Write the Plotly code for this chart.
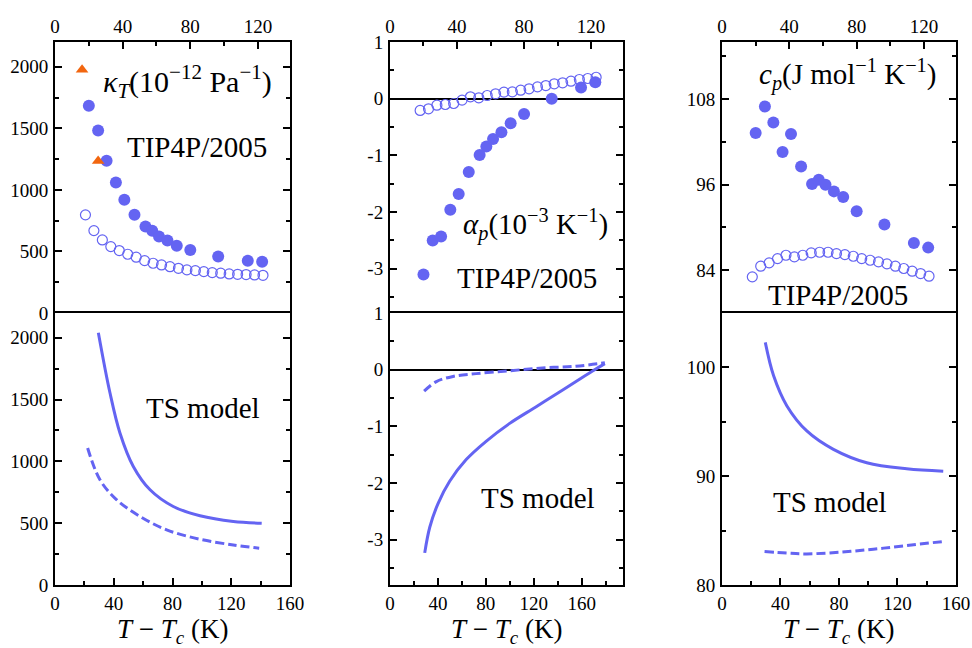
import plotly.graph_objects as go

FONT = "Liberation Serif"
BLUE = "#6464f2"
ORANGE = "#f2660f"

# ---- TIP4P/2005 simulation points (T - Tc in K) ----
x_sim = [20, 25.5, 30.5, 36, 41, 47, 53.5, 57.5, 61.5, 66.5, 72, 80, 96.5, 114, 122.5]
kappa_sim = [1683, 1482, 1236, 1059, 919, 797, 702, 667, 621, 588, 547, 512, 458, 425, 417]
alpha_sim = [-3.10, -2.50, -2.43, -1.96, -1.68, -1.29, -0.99, -0.84, -0.71, -0.59, -0.43,
             -0.27, 0.0, 0.20, 0.29]
cp_sim = [103.24, 106.96, 104.72, 100.58, 103.1, 98.56, 96.09, 96.70, 96.0, 95.06, 94.27,
          92.26, 90.4, 87.83, 87.17]

x_open = [18, 23, 28, 33, 38, 43, 48, 53, 58, 63, 68, 73, 78, 83, 88, 93, 98, 103, 108,
          113, 118, 123]
kappa_open = [797, 669, 593, 539, 507, 477, 453, 425, 404, 390, 376, 363, 350, 344, 336,
              328, 323, 317, 314, 312, 309, 306]
alpha_open = [-0.206, -0.177, -0.113, -0.101, -0.083, -0.024, 0.035, 0.017, 0.058, 0.088,
              0.117, 0.122, 0.152, 0.176, 0.21, 0.234, 0.264, 0.282, 0.31, 0.34, 0.358, 0.38]
cp_open = [83.07, 84.56, 85.03, 85.63, 86.10, 85.87, 86.10, 86.43, 86.52, 86.52, 86.33,
           86.19, 85.96, 85.63, 85.40, 85.17, 84.89, 84.56, 84.24, 83.86, 83.53, 83.16]

x_tri = [16, 25.5]
kappa_tri = [1975, 1235]

# ---- TS model curves ----
kappa_ts_x = [29.5, 37.4, 44.2, 53.3, 64.7, 80.5, 98.7, 121.4, 140.7]
kappa_ts_y = [2041, 1555, 1230, 959, 770, 635, 560, 514, 500]
kappa_ts2_x = [22.2, 30.6, 42, 57.9, 76, 98.7, 121.4, 139]
kappa_ts2_y = [1108, 851, 689, 554, 446, 370, 324, 298]

alpha_ts_x = [29, 33.2, 40.1, 49.8, 63.6, 80.2, 99.6, 121.7, 143.8, 168.7, 179.3]
alpha_ts_y = [-3.233, -2.781, -2.363, -1.970, -1.587, -1.264, -0.952, -0.658, -0.365,
              -0.029, 0.106]
alpha_ts2_x = [28.5, 38.7, 52.6, 71.9, 99.6, 127.2, 154.9, 179.3]
alpha_ts2_y = [-0.38, -0.21, -0.12, -0.07, -0.02, 0.03, 0.06, 0.12]

cp_ts_x = [29.6, 35.3, 44.4, 58, 76.2, 99, 126.3, 151.3]
cp_ts_y = [102.3, 99.23, 96.46, 94.16, 92.47, 91.24, 90.68, 90.46]
cp_ts2_x = [29.1, 44.4, 58, 80.8, 103.5, 126.3, 151.3]
cp_ts2_y = [83.07, 82.93, 82.86, 83.02, 83.29, 83.63, 84.0]

# ---- tick labels ----
top_xticks = [0, 40, 80, 120]
bot_xticks = [0, 40, 80, 120, 160]
kappa_ticks = [0, 500, 1000, 1500, 2000]
alpha_ticks = [-3, -2, -1, 0, 1]
alpha_ticktext = ["-3", "-2", "-1", "0", "1"]
cp_top_ticks = [84, 96, 108]
cp_bot_ticks = [80, 90, 100]

DASH = "9px,4px"

fig = go.Figure()


def filled(x, y, xa, ya):
    fig.add_trace(go.Scatter(x=x, y=y, mode="markers", xaxis=xa, yaxis=ya,
                             marker=dict(symbol="circle", size=12, color=BLUE),
                             showlegend=False))


def hollow(x, y, xa, ya):
    fig.add_trace(go.Scatter(x=x, y=y, mode="markers", xaxis=xa, yaxis=ya,
                             marker=dict(symbol="circle-open", size=10, color=BLUE,
                                         line=dict(width=1.2, color=BLUE)),
                             showlegend=False))


def curve(x, y, xa, ya, dash="solid"):
    fig.add_trace(go.Scatter(x=x, y=y, mode="lines", xaxis=xa, yaxis=ya,
                             line=dict(color=BLUE, width=3, dash=dash, shape="spline",
                                       smoothing=1.0),
                             showlegend=False))


hollow(x_open, kappa_open, "x", "y")
filled(x_sim, kappa_sim, "x", "y")
fig.add_trace(go.Scatter(x=x_tri, y=kappa_tri, mode="markers", xaxis="x", yaxis="y",
                         marker=dict(symbol="triangle-up", size=11, color=ORANGE),
                         showlegend=False))
hollow(x_open, alpha_open, "x2", "y2")
filled(x_sim, alpha_sim, "x2", "y2")
hollow(x_open, cp_open, "x3", "y3")
filled(x_sim, cp_sim, "x3", "y3")

curve(kappa_ts_x, kappa_ts_y, "x4", "y4")
curve(kappa_ts2_x, kappa_ts2_y, "x4", "y4", dash=DASH)
curve(alpha_ts_x, alpha_ts_y, "x5", "y5")
curve(alpha_ts2_x, alpha_ts2_y, "x5", "y5", dash=DASH)
curve(cp_ts_x, cp_ts_y, "x6", "y6")
curve(cp_ts2_x, cp_ts2_y, "x6", "y6", dash=DASH)

tickfont = dict(family=FONT, size=19, color="black")
common = dict(showline=True, linecolor="black", linewidth=2, ticks="inside", ticklen=7,
              tickwidth=1.5, tickcolor="black", showgrid=False, zeroline=False,
              tickfont=tickfont, automargin=False)
minor_x = dict(ticks="inside", ticklen=4, tickwidth=1.5, tickcolor="black", dtick=20,
               tick0=0, showgrid=False)

cols = [(0.0566, 0.2984), (0.4012, 0.6409), (0.7428, 0.9835)]
top_dom = (0.517, 0.935)
bot_dom = (0.0972, 0.517)

layout = dict(width=972, height=648, margin=dict(l=0, r=0, t=0, b=0, pad=0),
              plot_bgcolor="white", paper_bgcolor="white",
              font=dict(family=FONT, color="black"))

for i in range(3):
    n_top = i + 1
    n_bot = i + 4
    xt = "xaxis" if n_top == 1 else f"xaxis{n_top}"
    # upper panels: labelled scale on top; the shared edge comes from the lower panel
    layout[xt] = dict(common, domain=cols[i], anchor=("y" if n_top == 1 else f"y{n_top}"),
                      side="top", mirror=False, range=[0, 139], tickmode="array",
                      tickvals=top_xticks, minor=minor_x, ticklabelstandoff=0)
    layout[f"xaxis{n_bot}"] = dict(common, domain=cols[i], anchor=f"y{n_bot}",
                                   side="bottom", mirror=True,
                                   range=[0, 194.4 if i == 1 else 160],
                                   tickmode="array", tickvals=bot_xticks, minor=minor_x,
                                   ticklabelstandoff=0)


def yaxis(anchor, dom, rng, vals, text=None, minor_dtick=None, zero=False):
    d = dict(common, domain=dom, anchor=anchor, mirror="ticks", range=rng,
             tickmode="array", tickvals=vals, ticklabelstandoff=1,
             minor=dict(ticks="inside", ticklen=4, tickwidth=1.5, tickcolor="black",
                        dtick=minor_dtick, tick0=0, showgrid=False))
    if text is not None:
        d["ticktext"] = text
    if zero:
        d.update(zeroline=True, zerolinecolor="black", zerolinewidth=2)
    return d


layout["yaxis"] = yaxis("x", top_dom, [0, 2200], kappa_ticks, minor_dtick=250)
layout["yaxis2"] = yaxis("x2", top_dom, [-3.78, 1.0], alpha_ticks, alpha_ticktext, 0.5, True)
layout["yaxis3"] = yaxis("x3", top_dom, [78, 116], cp_top_ticks, minor_dtick=6)
layout["yaxis4"] = yaxis("x4", bot_dom, [0, 2200], kappa_ticks, minor_dtick=250)
layout["yaxis5"] = yaxis("x5", bot_dom, [-3.8, 1.0], alpha_ticks, alpha_ticktext, 0.5, True)
layout["yaxis6"] = yaxis("x6", bot_dom, [80, 105], cp_bot_ticks, minor_dtick=5)

fig.update_layout(**layout)

notes = [
    ("<i>κ</i><sub><i>T</i></sub>(10<sup>−12</sup> Pa<sup>−1</sup>)", 0.1929, 0.875, 30),
    ("TIP4P/2005", 0.2024, 0.7736, 29),
    ("TS model", 0.2092, 0.3699, 29),
    ("<i>α</i><sub><i>p</i></sub>(10<sup>−3</sup> K<sup>−1</sup>)", 0.5512, 0.654, 29),
    ("TIP4P/2005", 0.5419, 0.5705, 29),
    ("TS model", 0.5535, 0.2310, 29),
    ("<i>c</i><sub><i>p</i></sub>(J mol<sup>−1</sup> K<sup>−1</sup>)", 0.8719, 0.885, 29),
    ("TIP4P/2005", 0.8625, 0.5448, 29),
    ("TS model", 0.8539, 0.2258, 29),
]
for text, x, y, size in notes:
    fig.add_annotation(text=text, x=x, y=y, xref="paper", yref="paper",
                       xanchor="center", yanchor="middle", showarrow=False,
                       font=dict(family=FONT, size=size, color="black"))

# temperature axis titles under the lower panels
xtitle = "<i>T</i> − <i>T</i><sub><i>c</i></sub> (K)"
for lo, hi in cols:
    fig.add_annotation(text=xtitle, x=(lo + hi) / 2, y=0.027, xref="paper", yref="paper",
                       xanchor="center", yanchor="middle", showarrow=False,
                       font=dict(family=FONT, size=27, color="black"))

fig.write_html("out.html")
